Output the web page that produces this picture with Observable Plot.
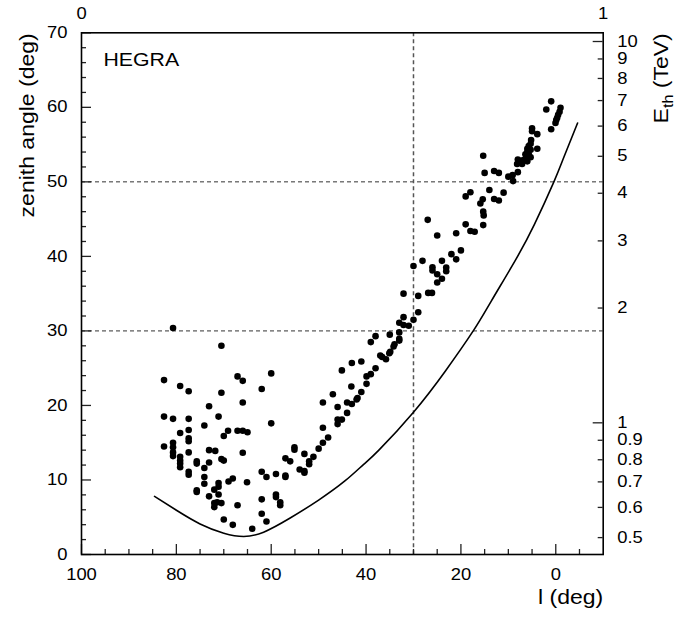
<!DOCTYPE html>
<html><head><meta charset="utf-8">
<script src="https://cdn.jsdelivr.net/npm/d3@7"></script>
<script src="https://cdn.jsdelivr.net/npm/@observablehq/plot@0.6"></script>
<style>
body{margin:0;background:#fff;}
#wrap{position:relative;width:690px;height:617px;}
#wrap svg{position:absolute;left:0;top:0;}
</style></head><body><div id="wrap"></div>
<script>
// observed runs: [galactic longitude l (deg), zenith angle (deg)]
const points = [
[80.7,30.4],[70.5,28.0],[82.6,23.4],[79.2,22.6],[77.4,21.9],[70.5,21.7],[67.1,23.9],[66.0,23.3],[62.0,22.2],[60.0,24.3],
[66.0,20.4],[73.1,19.9],[82.6,18.5],[80.7,18.2],[77.4,18.2],[71.1,18.5],[74.1,17.3],[60.0,17.6],[77.4,16.7],[79.2,16.3],
[69.1,16.6],[70.0,15.9],[67.1,16.6],[66.0,16.6],[65.0,16.4],[77.4,15.6],[77.4,15.2],[82.6,14.5],[80.7,15.0],[80.7,14.4],
[80.7,13.7],[80.7,13.2],[77.4,13.7],[79.2,13.1],[79.2,12.6],[79.2,12.2],[79.2,11.7],[73.1,14.0],[71.8,13.9],[70.5,12.8],
[70.0,12.6],[66.0,13.65],[75.7,12.5],[75.7,12.2],[73.1,12.35],[77.4,11.1],[77.4,10.7],[74.1,11.6],[74.1,10.4],[74.1,9.5],
[71.1,9.6],[71.1,9.1],[69.0,9.8],[68.1,10.2],[65.1,9.7],[62.0,11.1],[61.0,10.4],[59.0,10.8],[57.0,10.6],[57.0,10.4],
[57.0,12.9],[56.0,12.5],[75.7,8.6],[75.7,8.4],[73.1,7.8],[72.0,8.7],[71.1,8.05],[72.0,6.9],[71.4,7.0],[70.5,6.9],
[72.0,6.35],[67.1,6.6],[62.0,7.4],[59.0,8.05],[59.0,7.7],[58.1,7.0],[58.1,6.6],[62.0,5.46],[61.0,4.43],[70.0,4.7],
[68.1,3.98],[64.0,3.45],
[55.1,14.4],[55.1,14.05],[53.0,13.5],[54.0,11.4],[53.0,11.2],[53.0,10.97],[52.0,12.5],[52.0,12.1],[51.1,13.1],[50.0,14.2],
[49.1,15.0],[48.0,15.7],[49.1,17.0],[46.0,17.5],[46.0,18.1],[45.1,18.1],[44.0,19.0],[49.1,20.4],[46.0,19.8],[44.0,20.4],
[43.0,20.2],[42.0,20.8],[41.8,21.0],[47.0,21.5],[41.0,21.8],[43.1,22.55],[39.9,22.9],[45.1,24.7],[43.0,25.7],[41.0,25.9],
[39.9,23.9],[39.0,24.2],[38.0,25.0],[37.0,26.7],[36.6,26.5],[35.8,26.2],[34.9,27.2],[35.1,27.0],[39.0,28.5],[38.0,29.3],
[34.0,28.2],[34.2,27.9],[33.0,28.95],[33.0,28.7],[35.0,29.5],[33.0,29.8],[33.0,31.1],[32.1,30.8],[31.0,30.7],[32.1,31.85],
[30.0,31.5],[29.0,32.5],[32.1,35.0],[29.0,34.7],[26.9,35.1],[26.1,35.1],
[30.0,38.7],[28.1,39.4],[26.0,38.55],[26.0,38.1],[25.0,37.6],[25.0,36.5],[24.0,37.0],[24.0,39.4],[23.1,38.5],[23.1,38.0],
[22.0,40.3],[21.0,39.6],[20.0,40.8],[27.0,44.9],[25.0,42.8],[21.0,43.1],[19.0,44.3],[18.0,43.4],[17.1,43.3],[15.3,44.2],
[15.3,46.0],[15.2,45.5],[15.4,47.65],[15.9,47.1],[19.0,48.05],[18.0,48.6],[14.0,48.9],[13.0,47.7],[12.0,47.5],[11.0,48.55],
[15.3,53.5],[15.0,51.2],[13.0,51.45],[12.0,51.2],[10.0,50.7],[9.1,50.9],[9.0,50.1],[8.0,51.3],
[5.2,55.6],[5.3,55.1],[5.7,54.8],[6.0,54.45],[5.3,54.3],[6.0,54.0],[6.4,53.7],[5.7,53.7],[5.3,53.3],[6.4,53.1],
[7.0,52.9],[6.0,52.75],[7.1,52.4],[8.0,53.0],[8.15,52.4],
[3.9,54.45],[3.9,56.4],[5.0,57.2],[5.0,56.8],[0.97,57.05],[2.0,59.7],[0.97,60.8],
[-1.0,59.95],[-0.8,59.4],[-0.5,59.0],[-0.3,58.6],[-0.1,58.3],[0.06,57.9]
];

// solid curve
const curveL = [84.6, 79.9, 75.0, 70.0, 65.8, 61.6, 56.0, 50.0, 44.4, 40.5, 37.3, 30.0, 23.3, 17.3, 13.6, 8.5, 4.5, 0.4, -1.7, -4.6];
const curveZ = [7.8, 5.9, 4.1, 2.86, 2.42, 3.0, 4.9, 7.3, 9.9, 12.1, 14.0, 19.1, 24.6, 30.1, 34.0, 39.5, 44.3, 50.0, 53.3, 57.9];

// reference lines
const hDash = [30, 50];
const vDash = [30];

// ticks
const xMajor = [100, 80, 60, 40, 20, 0];
const xMinor = [95, 90, 85, 75, 70, 65, 55, 50, 45, 35, 30, 25, 15, 10, 5, -5];
const yMajor = [0, 10, 20, 30, 40, 50, 60, 70];
const yMinor = [2,4,6,8,12,14,16,18,22,24,26,28,32,34,36,38,42,44,46,48,52,54,56,58,62,64,66,68];
const eMajor = [1, 10];
const eMinor = [0.5, 0.6, 0.7, 0.8, 0.9, 2, 3, 4, 5, 6, 7, 8, 9];
const eLabels = [0.5, 0.6, 0.7, 0.8, 0.9, 1, 2, 3, 4, 5, 6, 7, 8, 9, 10];
const topLabels = [0, 1];

const W = 690, H = 617, mL = 81, mR = 87.3, mT = 32.3, mB = 63;
const fw = W - mL - mR, fh = H - mT - mB;
const FONT = "'Liberation Sans', Arial, Helvetica, sans-serif";
const curve = curveL.map((l, i) => ({l, z: curveZ[i]}));

const main = Plot.plot({
  width: W, height: H, marginLeft: mL, marginRight: mR, marginTop: mT, marginBottom: mB,
  style: {fontFamily: FONT, fontSize: "16px", background: "white", color: "black"},
  x: {domain: [100, -10]},
  y: {domain: [0, 70]},
  marks: [
    Plot.ruleY(hDash, {y: d => d, stroke: "#333", strokeWidth: 1, strokeDasharray: "4,3"}),
    Plot.ruleX(vDash, {x: d => d, stroke: "#555", strokeWidth: 1.5, strokeDasharray: "4,3"}),
    Plot.line(curve, {x: "l", y: "z", stroke: "black", strokeWidth: 1.6, curve: "natural"}),
    Plot.dot(points, {x: d => d[0], y: d => d[1], r: 3.3, fill: "black", stroke: "none"}),
    Plot.tickX(xMajor, {x: d => d, insetTop: fh - 10, stroke: "#222", strokeWidth: 1.3}),
    Plot.tickX(xMinor, {x: d => d, insetTop: fh - 5, stroke: "#222", strokeWidth: 1.3}),
    Plot.tickY(yMajor, {y: d => d, insetRight: fw - 10, stroke: "#222", strokeWidth: 1.3}),
    Plot.tickY(yMinor, {y: d => d, insetRight: fw - 5, stroke: "#222", strokeWidth: 1.3}),
    Plot.axisX({ticks: xMajor, tickSize: 0, tickPadding: 14, label: null, tickFormat: d => String(d)}),
    Plot.axisY({ticks: yMajor, tickSize: 0, tickPadding: 14, label: null, tickFormat: d => String(d)}),
    Plot.frame({stroke: "black", strokeWidth: 1.6}),
    Plot.text(["HEGRA"], {frameAnchor: "top-left", dx: 22, dy: 33.5, textAnchor: "start", lineAnchor: "bottom", fontSize: 18.5}),
    Plot.text(["zenith angle (deg)"], {frameAnchor: "top-left", rotate: -90, textAnchor: "end", lineAnchor: "middle", dx: -54, dy: 0.5, fontSize: 20}),
    Plot.text(["l (deg)"], {frameAnchor: "bottom-right", textAnchor: "end", lineAnchor: "bottom", dy: 49.5, fontSize: 20})
  ]
});

const over = Plot.plot({
  width: W, height: H, marginLeft: mL, marginRight: mR, marginTop: mT, marginBottom: mB,
  style: {fontFamily: FONT, fontSize: "16px", background: "transparent", color: "black"},
  x: {domain: [0, 1], axis: null},
  y: {type: "log", domain: [0.4515, 10.54], axis: null},
  marks: [
    Plot.tickY(eMajor, {y: d => d, insetLeft: fw - 10, stroke: "#222", strokeWidth: 1.3}),
    Plot.tickY(eMinor, {y: d => d, insetLeft: fw - 5, stroke: "#222", strokeWidth: 1.3}),
    Plot.text(eLabels, {y: d => d, text: d => String(d), frameAnchor: "right", dx: 14, textAnchor: "start", lineAnchor: "middle", fontSize: 16}),
    Plot.text(topLabels, {x: d => d, text: d => String(d), frameAnchor: "top", dy: -13.5, textAnchor: "middle", lineAnchor: "bottom", fontSize: 16}),
    Plot.text(["E_th (TeV)"], {frameAnchor: "top-right", rotate: -90, textAnchor: "end", lineAnchor: "middle", dx: 58, dy: 0.5, fontSize: 20})
  ]
});

const wrap = document.getElementById("wrap");
wrap.appendChild(main);
wrap.appendChild(over);
over.style.pointerEvents = "none";

// subscript in the right-hand title
d3.select(over).selectAll("text").filter(function() { return this.textContent === "E_th (TeV)"; })
  .each(function() {
    const t = d3.select(this);
    t.text(null);
    t.append("tspan").text("E");
    t.append("tspan").attr("font-size", 14).attr("dy", 5).text("th");
    t.append("tspan").attr("dy", -5).text(" (TeV)");
  });

// slightly wide lettering, as in the reference
for (const svg of [main, over]) {
  d3.select(svg).selectAll("text").each(function() {
    const tr = this.getAttribute("transform");
    if (tr && tr.includes("translate")) this.setAttribute("transform", tr + " scale(1.15,1)");
  });
}
</script></body></html>
